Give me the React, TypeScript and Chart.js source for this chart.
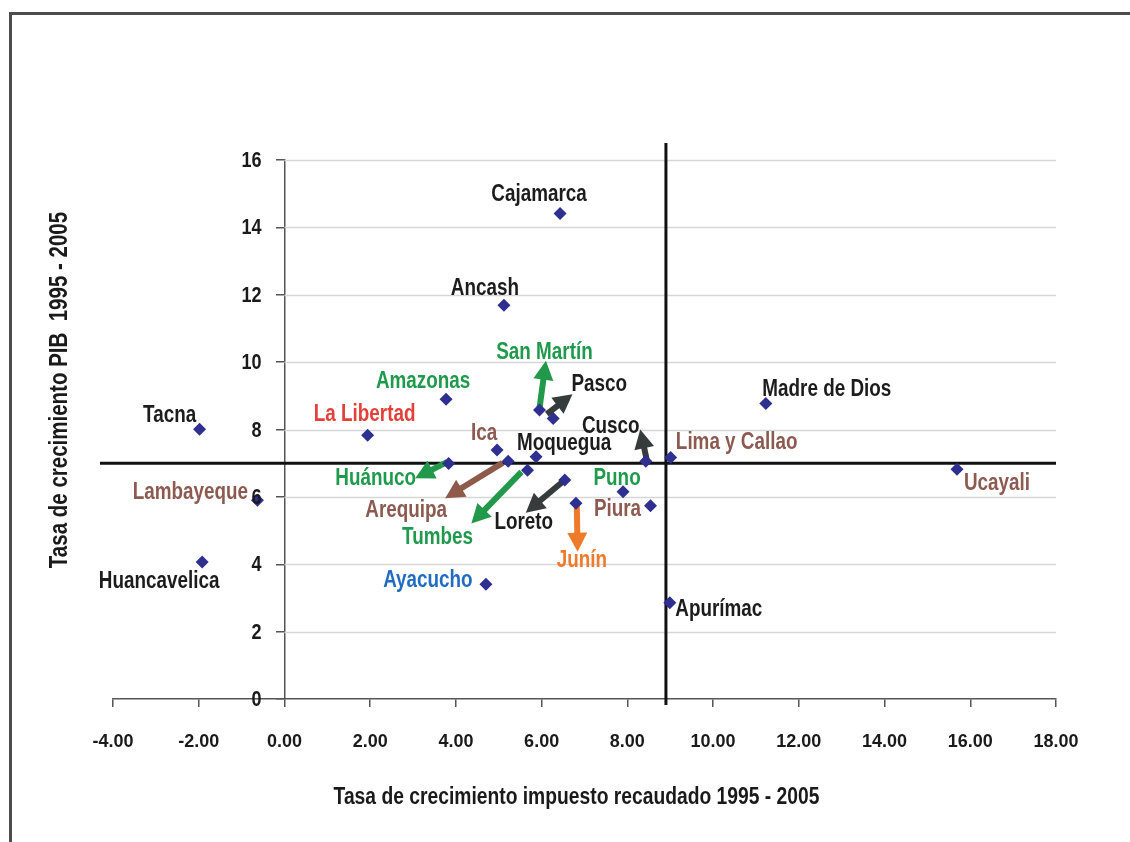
import React, { useEffect, useRef } from "react";
import { Chart, registerables } from "chart.js";
Chart.register(...registerables);

// ---- Data ----
const departamentos = [
  "Cajamarca", "Ancash", "San Martín", "Amazonas", "Pasco", "Tacna", "La Libertad", "Cusco",
  "Ica", "Moquegua", "Lima y Callao", "Madre de Dios", "Huánuco", "Puno", "Ucayali", "Lambayeque",
  "Arequipa", "Piura", "Loreto", "Tumbes", "Junín", "Huancavelica", "Ayacucho", "Apurímac",
];
// Tasa de crecimiento impuesto recaudado 1995 - 2005 (x)
const crecimientoImpuesto = [
  6.43, 5.12, 5.95, 3.77, 6.27, -1.98, 1.94, 8.43,
  4.96, 5.87, 9.01, 11.23, 3.83, 7.90, 15.69, -0.63,
  5.22, 8.54, 6.54, 5.67, 6.80, -1.92, 4.70, 8.99,
];
// Tasa de crecimiento PIB 1995 - 2005 (y)
const crecimientoPIB = [
  14.41, 11.69, 8.58, 8.90, 8.33, 8.01, 7.83, 7.06,
  7.39, 7.19, 7.17, 8.77, 6.99, 6.15, 6.82, 5.90,
  7.06, 5.74, 6.50, 6.79, 5.81, 4.07, 3.41, 2.86,
];
const grupoEtiqueta = [
  "negro", "negro", "verde", "verde", "negro", "negro", "rojo", "negro",
  "marron", "negro", "marron", "negro", "verde", "verde", "marron", "marron",
  "marron", "marron", "negro", "verde", "naranja", "negro", "azul", "negro",
];
const xTickValues = [-4, -2, 0, 2, 4, 6, 8, 10, 12, 14, 16, 18];
const yTickValues = [0, 2, 4, 6, 8, 10, 12, 14, 16];
const umbralImpuesto = 8.9;
const umbralPIB = 7;

// Arrows (data units): from -> to
const flechaDesdeX = [5.95, 6.12, 8.45, 3.80, 5.09, 5.53, 6.49, 6.82];
const flechaDesdeY = [8.63, 8.46, 7.11, 7.04, 7.01, 6.74, 6.45, 5.73];
const flechaHastaX = [6.10, 6.72, 8.30, 3.05, 3.75, 4.36, 5.63, 6.84];
const flechaHastaY = [10.04, 9.05, 8.00, 6.55, 5.96, 5.21, 5.53, 4.37];
const flechaGrupo = ["verde", "negro", "negro", "verde", "marron", "verde", "negro", "naranja"];

const tituloX = "Tasa de crecimiento impuesto recaudado 1995 - 2005";
const tituloY = "Tasa de crecimiento PIB  1995 - 2005";

// ---- Styles ----
const labelOffsetX = [-21, -19, 5, -23, 46, -30, -3, -35, -13, 28, 66, 61, -73, -6, 40, -67, -102, -33, -41, -90, 6, -43, -58, 49];
const labelOffsetY = [-19, -17, -57, -18, -34, -14, -21, -35, -16, -13, -15, -14, 15, -13, 14, -8, 49, 4, 43, 67, 57, 20, -3, 7];

const textColors: Record<string, string> = {
  negro: "#1c1c1c",
  verde: "#1f9a4c",
  rojo: "#e4403a",
  marron: "#8c5a50",
  naranja: "#f07a2c",
  azul: "#1f6cc0",
};
const arrowColors: Record<string, string> = {
  verde: "#22984a",
  negro: "#363c3c",
  marron: "#8e5a4a",
  naranja: "#ef7a2a",
};

function hasFont(name: string): boolean {
  const c = document.createElement("canvas").getContext("2d");
  if (!c) return false;
  const s = "abcdefghijklmnop WMQ 0123";
  c.font = "bold 40px monospace";
  const w1 = c.measureText(s).width;
  c.font = `bold 40px '${name}', monospace`;
  const w2 = c.measureText(s).width;
  return Math.abs(w1 - w2) > 0.5;
}

export default function App() {
  const ref = useRef<HTMLCanvasElement | null>(null);

  useEffect(() => {
    const canvas = ref.current;
    if (!canvas) return;
    const narrow = hasFont("Liberation Sans Narrow");
    const family = narrow ? "'Liberation Sans Narrow', 'Liberation Sans', Arial, sans-serif" : "'Liberation Sans', Arial, sans-serif";
    const sx = narrow ? 1 : 0.82;

    const drawText = (ctx: CanvasRenderingContext2D, text: string, x: number, y: number, size: number, color: string, align: CanvasTextAlign = "center", rot = 0) => {
      ctx.save();
      ctx.translate(x, y);
      if (rot) ctx.rotate(rot);
      ctx.scale(sx, 1);
      ctx.font = `bold ${size}px ${family}`;
      ctx.fillStyle = color;
      ctx.textAlign = align;
      ctx.textBaseline = "middle";
      ctx.fillText(text, 0, 0);
      ctx.restore();
    };

    const drawArrow = (ctx: CanvasRenderingContext2D, x1: number, y1: number, x2: number, y2: number, color: string) => {
      const ang = Math.atan2(y2 - y1, x2 - x1);
      const headLen = 19;
      const headW = 20;
      const cos = Math.cos(ang);
      const sin = Math.sin(ang);
      const bx = x2 - headLen * cos;
      const by = y2 - headLen * sin;
      ctx.save();
      ctx.strokeStyle = color;
      ctx.fillStyle = color;
      ctx.lineWidth = 6;
      ctx.lineCap = "butt";
      ctx.beginPath();
      ctx.moveTo(x1, y1);
      ctx.lineTo(bx + cos * 2, by + sin * 2);
      ctx.stroke();
      ctx.beginPath();
      ctx.moveTo(x2, y2);
      ctx.lineTo(bx - (headW / 2) * sin, by + (headW / 2) * cos);
      ctx.lineTo(bx + (headW / 2) * sin, by - (headW / 2) * cos);
      ctx.closePath();
      ctx.fill();
      ctx.restore();
    };

    const deco = {
      id: "deco",
      beforeDraw(chart: any) {
        const ctx = chart.ctx as CanvasRenderingContext2D;
        ctx.save();
        ctx.fillStyle = "#ffffff";
        ctx.fillRect(0, 0, chart.width, chart.height);
        // frame (left + top)
        ctx.strokeStyle = "#4d4d4d";
        ctx.lineWidth = 3;
        ctx.beginPath();
        ctx.moveTo(10.5, chart.height + 5);
        ctx.lineTo(10.5, 13.5);
        ctx.lineTo(chart.width + 5, 13.5);
        ctx.stroke();
        ctx.restore();
      },
      beforeDatasetsDraw(chart: any) {
        const ctx = chart.ctx as CanvasRenderingContext2D;
        const xs = chart.scales.x;
        const ys = chart.scales.y;
        const x0 = xs.getPixelForValue(0);
        ctx.save();
        // gridlines from x = 0 to right edge
        ctx.strokeStyle = "#d6d6d6";
        ctx.lineWidth = 1.5;
        yTickValues.forEach((v) => {
          if (v === 0) return;
          const py = Math.round(ys.getPixelForValue(v)) + 0.5;
          ctx.beginPath();
          ctx.moveTo(x0, py);
          ctx.lineTo(xs.right, py);
          ctx.stroke();
        });
        // reference lines
        ctx.strokeStyle = "#111111";
        ctx.lineWidth = 3;
        const hy = ys.getPixelForValue(umbralPIB);
        ctx.beginPath();
        ctx.moveTo(xs.left - 13, hy);
        ctx.lineTo(xs.right, hy);
        ctx.stroke();
        const vx = xs.getPixelForValue(umbralImpuesto);
        ctx.beginPath();
        ctx.moveTo(vx, ys.top - 17);
        ctx.lineTo(vx, ys.bottom + 6);
        ctx.stroke();
        ctx.restore();
        // arrows
        flechaDesdeX.forEach((fx, i) => {
          drawArrow(
            ctx,
            xs.getPixelForValue(fx),
            ys.getPixelForValue(flechaDesdeY[i]),
            xs.getPixelForValue(flechaHastaX[i]),
            ys.getPixelForValue(flechaHastaY[i]),
            arrowColors[flechaGrupo[i]]
          );
        });
      },
      afterDraw(chart: any) {
        const ctx = chart.ctx as CanvasRenderingContext2D;
        const xs = chart.scales.x;
        const ys = chart.scales.y;
        const x0 = xs.getPixelForValue(0);
        // y tick labels
        yTickValues.forEach((v) => {
          drawText(ctx, String(v), x0 - 23, ys.getPixelForValue(v) + 1, 22, "#1a1a1a", "right");
        });
        // point labels
        departamentos.forEach((name, i) => {
          const px = xs.getPixelForValue(crecimientoImpuesto[i]) + labelOffsetX[i];
          const py = ys.getPixelForValue(crecimientoPIB[i]) + labelOffsetY[i];
          drawText(ctx, name, px, py, 23, textColors[grupoEtiqueta[i]]);
        });
        // axis titles
        drawText(ctx, tituloX, (xs.left + xs.right) / 2 - 8, 798, 23.5, "#1a1a1a");
        drawText(ctx, tituloY, 60, 390, 25, "#1a1a1a", "center", -Math.PI / 2);
      },
    };

    const chart = new Chart(canvas, {
      type: "scatter",
      data: {
        datasets: [
          {
            data: crecimientoImpuesto.map((x, i) => ({ x, y: crecimientoPIB[i] })),
            pointStyle: "rectRot",
            pointRadius: 6.5,
            pointBackgroundColor: "#2e2f8f",
            pointBorderColor: "#2e2f8f",
            pointBorderWidth: 0,
          },
        ],
      },
      options: {
        responsive: false,
        animation: false,
        devicePixelRatio: 1,
        layout: { padding: { left: 113, right: 74, top: 160, bottom: 0 } },
        plugins: { legend: { display: false }, tooltip: { enabled: false } },
        scales: {
          x: {
            type: "linear",
            position: "bottom",
            min: -4,
            max: 18,
            afterBuildTicks: (s: any) => {
              s.ticks = xTickValues.map((value) => ({ value }));
            },
            afterFit: (s: any) => {
              s.height = 143;
            },
            ticks: {
              autoSkip: false,
              maxRotation: 0,
              padding: 24,
              color: "#1a1a1a",
              font: { family, size: narrow ? 22 : 18, weight: "bold" },
              callback: (v: any) => Number(v).toFixed(2),
            },
            grid: { drawOnChartArea: false, drawTicks: true, tickLength: 8, color: "#555555", lineWidth: 1.5 },
            border: { display: true, color: "#555555", width: 1.5 },
          },
          y: {
            type: "linear",
            position: { x: 0 } as any,
            min: 0,
            max: 16,
            afterBuildTicks: (s: any) => {
              s.ticks = yTickValues.map((value) => ({ value }));
            },
            ticks: { display: false },
            grid: { drawOnChartArea: false, drawTicks: true, tickLength: 8, color: "#555555", lineWidth: 1.5 },
            border: { display: true, color: "#555555", width: 1.5 },
          },
        },
      } as any,
      plugins: [deco],
    });
    return () => chart.destroy();
  }, []);

  return (
    <div style={{ position: "absolute", left: 0, top: 0, width: 1130, height: 842, background: "#fff" }}>
      <canvas ref={ref} width={1130} height={842} style={{ display: "block", width: 1130, height: 842 }} />
    </div>
  );
}
